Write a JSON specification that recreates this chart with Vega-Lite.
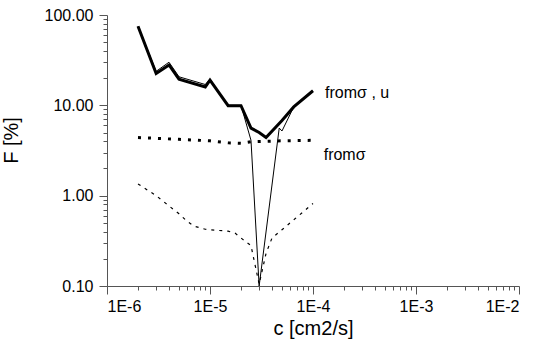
{
  "$schema": "https://vega.github.io/schema/vega-lite/v6.json",
  "autosize": {"type": "none"},
  "width": 412,
  "height": 271,
  "padding": {"left": 107, "top": 15, "right": 17, "bottom": 61},
  "background": "white",
  "config": {
    "view": {"stroke": null},
    "font": "Liberation Sans",
    "axis": {"grid": false, "labelFont": "Liberation Sans", "titleFont": "Liberation Sans", "labelColor": "black", "titleColor": "black", "domainColor": "#555", "tickColor": "#555", "titleFontWeight": "normal"}
  },
  "datasets": {
    "lines": [
      {"s": "thick", "c": 2e-6, "F": 75},
      {"s": "thick", "c": 3e-6, "F": 22.5},
      {"s": "thick", "c": 4e-6, "F": 28},
      {"s": "thick", "c": 5e-6, "F": 19.5},
      {"s": "thick", "c": 9e-6, "F": 16},
      {"s": "thick", "c": 1e-5, "F": 19},
      {"s": "thick", "c": 1.5e-5, "F": 9.9},
      {"s": "thick", "c": 2e-5, "F": 9.9},
      {"s": "thick", "c": 2.5e-5, "F": 5.6},
      {"s": "thick", "c": 3e-5, "F": 5.0},
      {"s": "thick", "c": 3.5e-5, "F": 4.4},
      {"s": "thick", "c": 5e-5, "F": 6.8},
      {"s": "thick", "c": 6.5e-5, "F": 9.6},
      {"s": "thick", "c": 1e-4, "F": 14.5},
      {"s": "thin", "c": 2e-6, "F": 75},
      {"s": "thin", "c": 3e-6, "F": 23.8},
      {"s": "thin", "c": 4e-6, "F": 30},
      {"s": "thin", "c": 5e-6, "F": 20.7},
      {"s": "thin", "c": 9e-6, "F": 17},
      {"s": "thin", "c": 1e-5, "F": 19.5},
      {"s": "thin", "c": 1.5e-5, "F": 10},
      {"s": "thin", "c": 2e-5, "F": 10},
      {"s": "thin", "c": 2.5e-5, "F": 4.1},
      {"s": "thin", "c": 3e-5, "F": 0.1},
      {"s": "thin", "c": 4.7e-5, "F": 5.6},
      {"s": "thin", "c": 5e-5, "F": 5.2},
      {"s": "thin", "c": 6.5e-5, "F": 9.6},
      {"s": "thin", "c": 1e-4, "F": 14.5},
      {"s": "dot", "c": 2e-6, "F": 4.4},
      {"s": "dot", "c": 5e-6, "F": 4.2},
      {"s": "dot", "c": 1e-5, "F": 4.05},
      {"s": "dot", "c": 1.5e-5, "F": 3.85},
      {"s": "dot", "c": 2e-5, "F": 3.8},
      {"s": "dot", "c": 2.5e-5, "F": 3.95},
      {"s": "dot", "c": 5e-5, "F": 4.05},
      {"s": "dot", "c": 1e-4, "F": 4.1},
      {"s": "dash", "c": 2e-6, "F": 1.35},
      {"s": "dash", "c": 3e-6, "F": 1.0},
      {"s": "dash", "c": 4e-6, "F": 0.77},
      {"s": "dash", "c": 5e-6, "F": 0.63},
      {"s": "dash", "c": 6e-6, "F": 0.52},
      {"s": "dash", "c": 7e-6, "F": 0.46},
      {"s": "dash", "c": 9e-6, "F": 0.425},
      {"s": "dash", "c": 1.1e-5, "F": 0.415},
      {"s": "dash", "c": 1.5e-5, "F": 0.405},
      {"s": "dash", "c": 1.75e-5, "F": 0.385},
      {"s": "dash", "c": 2e-5, "F": 0.34},
      {"s": "dash", "c": 2.5e-5, "F": 0.28},
      {"s": "dash", "c": 3e-5, "F": 0.105},
      {"s": "dash", "c": 3.5e-5, "F": 0.23},
      {"s": "dash", "c": 4e-5, "F": 0.34},
      {"s": "dash", "c": 5e-5, "F": 0.42},
      {"s": "dash", "c": 7e-5, "F": 0.58},
      {"s": "dash", "c": 1e-4, "F": 0.82}
    ],
    "labels": [
      {"t": "fromσ , u", "c": 1.31e-4, "F": 13.7},
      {"t": "fromσ", "c": 1.27e-4, "F": 2.82}
    ]
  },
  "encoding": {
    "x": {
      "field": "c", "type": "quantitative",
      "scale": {"type": "log", "domain": [1e-6, 1e-2], "nice": false},
      "axis": {
        "title": "c [cm2/s]", "titleFontSize": 20, "labelFontSize": 16, "labelPadding": 4, "titlePadding": 4,
        "values": [1e-6,2e-6,3e-6,4e-6,5e-6,6e-6,7e-6,8e-6,9e-6,1e-5,2e-5,3e-5,4e-5,5e-5,6e-5,7e-5,8e-5,9e-5,1e-4,2e-4,3e-4,4e-4,5e-4,6e-4,7e-4,8e-4,9e-4,1e-3,2e-3,3e-3,4e-3,5e-3,6e-3,7e-3,8e-3,9e-3,1e-2],
        "labelExpr": "abs(log(datum.value)/LN10 - round(log(datum.value)/LN10)) < 1e-6 ? '1E' + round(log(datum.value)/LN10) : ''",
        "tickSize": {"condition": {"test": "abs(log(datum.value)/LN10 - round(log(datum.value)/LN10)) < 1e-6", "value": 8}, "value": 4}
      }
    },
    "y": {
      "field": "F", "type": "quantitative",
      "scale": {"type": "log", "domain": [0.1, 100], "nice": false},
      "axis": {
        "title": "F [%]", "titleFontSize": 20, "labelFontSize": 16, "labelPadding": 6,
        "values": [0.1,0.2,0.3,0.4,0.5,0.6,0.7,0.8,0.9,1,2,3,4,5,6,7,8,9,10,20,30,40,50,60,70,80,90,100],
        "labelExpr": "abs(log(datum.value)/LN10 - round(log(datum.value)/LN10)) < 1e-6 ? format(datum.value, '.2f') : ''",
        "tickSize": {"condition": {"test": "abs(log(datum.value)/LN10 - round(log(datum.value)/LN10)) < 1e-6", "value": 8}, "value": 4},
        "titleX": -86, "titleY": 125
      }
    }
  },
  "layer": [
    {"data": {"name": "lines"}, "transform": [{"filter": "datum.s === 'dash'"}],
     "mark": {"type": "line", "color": "black", "strokeWidth": 1.2, "strokeDash": [3, 5], "clip": true}},
    {"data": {"name": "lines"}, "transform": [{"filter": "datum.s === 'dot'"}],
     "mark": {"type": "line", "color": "black", "strokeWidth": 3, "strokeDash": [3, 7], "clip": true}},
    {"data": {"name": "lines"}, "transform": [{"filter": "datum.s === 'thick'"}],
     "mark": {"type": "line", "color": "black", "strokeWidth": 3, "clip": true}},
    {"data": {"name": "lines"}, "transform": [{"filter": "datum.s === 'thin'"}],
     "mark": {"type": "line", "color": "black", "strokeWidth": 1, "clip": true}},
    {"data": {"name": "labels"},
     "mark": {"type": "text", "align": "left", "baseline": "middle", "fontSize": 16, "font": "Liberation Sans", "color": "black"},
     "encoding": {"text": {"field": "t"}}}
  ]
}
